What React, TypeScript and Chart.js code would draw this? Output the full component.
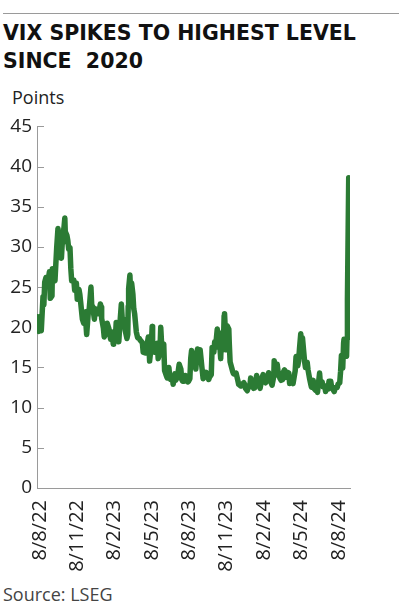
import React, { useEffect, useRef } from "react";
import { Chart, registerables } from "chart.js";

Chart.register(...registerables);

const dates = [
  "2022-08-08","2022-08-10","2022-08-12","2022-08-16","2022-08-18","2022-08-22","2022-08-24","2022-08-26","2022-08-29","2022-08-31",
  "2022-09-02","2022-09-06","2022-09-08","2022-09-12","2022-09-13","2022-09-15","2022-09-19","2022-09-21","2022-09-23","2022-09-26","2022-09-28","2022-09-30",
  "2022-10-04","2022-10-06","2022-10-07","2022-10-10","2022-10-12","2022-10-13","2022-10-17","2022-10-19","2022-10-21","2022-10-24","2022-10-26","2022-10-28","2022-10-31",
  "2022-11-02","2022-11-04","2022-11-08","2022-11-10","2022-11-14","2022-11-16","2022-11-18","2022-11-22","2022-11-25","2022-11-29","2022-11-30",
  "2022-12-02","2022-12-06","2022-12-08","2022-12-12","2022-12-14","2022-12-16","2022-12-20","2022-12-22","2022-12-27","2022-12-30",
  "2023-01-03","2023-01-05","2023-01-06","2023-01-10","2023-01-12","2023-01-17","2023-01-19","2023-01-23","2023-01-25","2023-01-27","2023-01-31",
  "2023-02-02","2023-02-03","2023-02-07","2023-02-09","2023-02-13","2023-02-15","2023-02-17","2023-02-21","2023-02-23","2023-02-27","2023-02-28",
  "2023-03-02","2023-03-06","2023-03-08","2023-03-09","2023-03-10","2023-03-13","2023-03-15","2023-03-17","2023-03-20","2023-03-22","2023-03-24","2023-03-28","2023-03-31",
  "2023-04-04","2023-04-06","2023-04-11","2023-04-13","2023-04-18","2023-04-20","2023-04-25","2023-04-27","2023-04-28",
  "2023-05-02","2023-05-04","2023-05-05","2023-05-08","2023-05-10","2023-05-12","2023-05-16","2023-05-18","2023-05-22","2023-05-24","2023-05-26","2023-05-31",
  "2023-06-02","2023-06-06","2023-06-08","2023-06-12","2023-06-14","2023-06-16","2023-06-20","2023-06-22","2023-06-26","2023-06-28","2023-06-30",
  "2023-07-03","2023-07-06","2023-07-10","2023-07-12","2023-07-14","2023-07-18","2023-07-20","2023-07-24","2023-07-26","2023-07-28","2023-07-31",
  "2023-08-02","2023-08-04","2023-08-08","2023-08-10","2023-08-14","2023-08-16","2023-08-18","2023-08-22","2023-08-24","2023-08-28","2023-08-31",
  "2023-09-05","2023-09-07","2023-09-11","2023-09-13","2023-09-15","2023-09-19","2023-09-21","2023-09-25","2023-09-27","2023-09-29",
  "2023-10-03","2023-10-05","2023-10-09","2023-10-11","2023-10-13","2023-10-17","2023-10-19","2023-10-20","2023-10-24","2023-10-26","2023-10-30","2023-10-31",
  "2023-11-02","2023-11-06","2023-11-08","2023-11-10","2023-11-14","2023-11-16","2023-11-20","2023-11-22","2023-11-27","2023-11-30",
  "2023-12-04","2023-12-06","2023-12-08","2023-12-12","2023-12-14","2023-12-18","2023-12-20","2023-12-22","2023-12-27","2023-12-29",
  "2024-01-03","2024-01-05","2024-01-09","2024-01-11","2024-01-16","2024-01-18","2024-01-22","2024-01-24","2024-01-26","2024-01-31",
  "2024-02-02","2024-02-06","2024-02-08","2024-02-12","2024-02-13","2024-02-15","2024-02-20","2024-02-22","2024-02-26","2024-02-29",
  "2024-03-04","2024-03-06","2024-03-08","2024-03-12","2024-03-14","2024-03-18","2024-03-20","2024-03-22","2024-03-26","2024-03-28",
  "2024-04-02","2024-04-04","2024-04-08","2024-04-10","2024-04-12","2024-04-15","2024-04-16","2024-04-18","2024-04-19","2024-04-22","2024-04-24","2024-04-26","2024-04-30",
  "2024-05-02","2024-05-06","2024-05-08","2024-05-10","2024-05-14","2024-05-16","2024-05-20","2024-05-22","2024-05-24","2024-05-29","2024-05-31",
  "2024-06-04","2024-06-06","2024-06-10","2024-06-12","2024-06-14","2024-06-18","2024-06-20","2024-06-24","2024-06-26","2024-06-28",
  "2024-07-02","2024-07-05","2024-07-09","2024-07-11","2024-07-15","2024-07-17","2024-07-19","2024-07-22","2024-07-24","2024-07-25","2024-07-29","2024-07-31",
  "2024-08-01","2024-08-02","2024-08-05","2024-08-06","2024-08-07","2024-08-08",
];

const vix = [
  21.3,19.7,19.5,19.7,19.6,23.8,22.8,25.6,26.2,25.9,
  25.5,26.9,23.6,23.9,27.3,26.3,25.8,27.9,29.9,32.3,30.2,31.6,
  28.6,30.5,31.4,32.4,33.6,31.9,31.4,30.8,29.7,29.9,27.3,25.8,25.9,
  25.9,24.6,25.5,23.5,24.7,24.1,23.1,21.0,20.5,21.9,20.6,
  19.1,22.0,22.3,25.0,22.5,22.6,21.0,22.3,21.7,21.7,
  22.9,22.5,21.1,19.9,18.8,19.4,20.5,19.8,19.1,18.5,19.4,
  17.9,18.3,18.7,20.6,20.3,18.2,20.0,22.9,21.1,20.9,20.7,
  19.6,18.6,19.1,22.6,24.8,26.5,23.7,25.5,24.1,22.3,21.7,19.4,18.7,
  18.6,18.4,18.1,16.9,16.8,17.1,18.8,17.0,15.8,
  17.8,20.1,17.2,17.0,16.9,17.0,18.0,16.1,16.9,20.0,18.0,17.9,
  14.6,14.0,13.7,15.0,13.9,13.5,13.9,12.9,14.2,13.4,13.6,
  14.2,15.4,14.8,13.5,13.3,13.3,14.0,13.9,13.2,13.3,13.6,
  16.1,17.1,16.0,15.8,14.8,16.5,17.3,16.9,17.2,15.1,13.6,
  14.0,14.4,13.8,13.5,13.8,14.1,17.5,16.9,18.2,17.5,
  19.8,18.6,17.7,16.1,19.3,17.2,21.4,21.7,17.2,20.2,19.75,18.1,
  15.7,14.9,14.5,14.2,14.2,14.3,13.4,12.9,12.7,12.9,
  13.1,12.9,12.4,12.1,12.5,12.6,13.7,13.0,12.4,12.45,
  14.0,13.35,12.8,12.4,13.8,14.1,13.2,13.1,13.3,14.35,
  13.85,13.06,12.8,13.9,15.85,14.0,15.4,14.5,13.7,13.4,
  13.5,14.5,14.7,13.8,14.4,14.3,13.0,13.1,13.2,13.0,
  14.6,16.35,15.2,15.8,17.3,19.2,18.4,18.0,18.7,16.9,15.7,15.0,15.65,
  14.7,13.5,13.0,12.55,13.4,12.4,12.15,12.3,11.9,14.3,12.9,
  13.2,12.6,12.7,12.0,12.7,12.3,13.3,13.3,12.55,12.4,
  12.0,12.5,12.5,12.9,13.1,14.5,16.5,14.9,18.0,18.5,16.6,16.4,
  18.6,23.4,38.6,27.7,28.0,25.8,
];

const xTickLabels = ["8/8/22", "8/11/22", "8/2/23", "8/5/23", "8/8/23", "8/11/23", "8/2/24", "8/5/24", "8/8/24"];
// Day offsets (from 8 Aug 2022) where the x labels sit in the original graphic
const xTickDays = [7, 94, 181, 269, 356, 443, 530, 618, 705];
const yMin = 0;
const yMax = 45;
const yStep = 5;

const START = Date.UTC(2022, 7, 8);
const END_DAY = 731;
function dayOf(s: string): number {
  const [y, m, d] = s.split("-").map(Number);
  return (Date.UTC(y, m - 1, d) - START) / 86400000;
}

const FONT = "'Open Sans', 'DejaVu Sans', sans-serif";
const TITLE_FONT = "'DejaVu Sans', 'Open Sans', sans-serif";

export default function App() {
  const ref = useRef<HTMLCanvasElement | null>(null);

  useEffect(() => {
    if (!ref.current) return;
    const points = dates.map((d, i) => ({ x: dayOf(d), y: vix[i] }));

    const innerTicks = {
      id: "innerTicks",
      beforeDatasetsDraw(chart: any) {
        const { ctx, chartArea, scales } = chart;
        const y = scales.y;
        ctx.save();
        ctx.strokeStyle = "#9a9a9a";
        ctx.lineWidth = 1;
        y.ticks.forEach((t: any) => {
          const py = Math.round(y.getPixelForValue(t.value)) + 0.5;
          ctx.beginPath();
          ctx.moveTo(chartArea.left, py);
          ctx.lineTo(chartArea.left + 7, py);
          ctx.stroke();
        });
        ctx.restore();
      },
    };

    const chart = new Chart(ref.current, {
      type: "line",
      data: {
        datasets: [
          {
            data: points,
            borderColor: "#2b7b34",
            borderWidth: 5.5,
            pointRadius: 0,
            tension: 0,
            fill: false,
            borderJoinStyle: "round",
            borderCapStyle: "round",
          },
        ],
      },
      options: {
        animation: false,
        responsive: false,
        maintainAspectRatio: false,
        devicePixelRatio: 1,
        layout: { padding: { top: 13, right: 49, left: 0, bottom: 0 } },
        plugins: { legend: { display: false }, tooltip: { enabled: false } },
        scales: {
          x: {
            type: "linear",
            min: 0,
            max: END_DAY,
            grid: { display: false, drawTicks: false },
            border: { display: true, color: "#9a9a9a", width: 1 },
            afterBuildTicks: (scale: any) => {
              scale.ticks = xTickDays.map((v) => ({ value: v }));
            },
            afterFit: (scale: any) => {
              scale.height = 92;
            },
            ticks: {
              autoSkip: false,
              maxRotation: 90,
              minRotation: 90,
              padding: 12,
              color: "#222",
              font: { family: FONT, size: 20 },
              callback: (_v: any, i: number) => xTickLabels[i],
            },
          },
          y: {
            min: yMin,
            max: yMax,
            grid: { display: false, drawTicks: false },
            border: { display: true, color: "#9a9a9a", width: 1 },
            afterFit: (scale: any) => {
              scale.width = 37;
            },
            ticks: {
              stepSize: yStep,
              padding: 5,
              color: "#222",
              font: { family: FONT, size: 19 },
            },
          },
        },
      },
      plugins: [innerTicks],
    });
    return () => chart.destroy();
  }, []);

  return (
    <div style={{ position: "absolute", left: 0, top: 0, width: 399, height: 616, background: "#fff", fontFamily: FONT }}>
      <div style={{ position: "absolute", left: 3, top: 13, width: 396, borderTop: "1.5px solid #9a9a9a" }} />
      <div
        style={{
          position: "absolute",
          left: 3,
          top: 19,
          fontFamily: TITLE_FONT,
          fontSize: 20.5,
          fontWeight: 700,
          lineHeight: "28px",
          color: "#111",
          whiteSpace: "pre",
        }}
      >
        {"VIX SPIKES TO HIGHEST LEVEL\nSINCE  2020"}
      </div>
      <div style={{ position: "absolute", left: 12, top: 87, fontSize: 18, lineHeight: "20px", color: "#222" }}>Points</div>
      <canvas
        ref={ref}
        width={399}
        height={470}
        style={{ position: "absolute", left: 0, top: 110, width: 399, height: 470 }}
      />
      <div style={{ position: "absolute", left: 3, top: 584, fontSize: 18, lineHeight: "20px", color: "#444" }}>
        Source: LSEG
      </div>
    </div>
  );
}
